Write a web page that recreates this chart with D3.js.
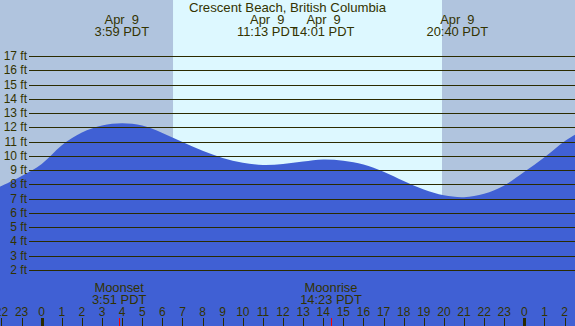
<!DOCTYPE html>
<html lang="en">
<head>
<meta charset="UTF-8">
<title>Crescent Beach, British Columbia</title>
<script src="https://d3js.org/d3.v7.min.js"></script>
<style>
  body { margin: 0; background: #fff; }
  text { font-family: "Liberation Sans", Arial, sans-serif; font-size: 12px; fill: #333300; white-space: pre; }
  text.big { font-size: 12.9px; }
</style>
</head>
<body>
<script>
    // tide heights, hours from 00:00 Apr 9
    var hours   = [-2.1, -2, -1, 0, 1, 2, 3, 4, 5, 6, 7, 8, 9, 10, 11, 12, 13, 14, 15, 16, 17, 18, 19, 20, 21, 22, 23, 24, 25, 26, 26.6];
    var heights = [7.82, 7.88, 8.58, 9.43, 10.74, 11.63, 12.12, 12.28, 12.12, 11.6, 10.97, 10.35, 9.85, 9.52, 9.36, 9.43, 9.61, 9.75, 9.66, 9.39, 8.88, 8.23, 7.64, 7.23, 7.1, 7.34, 7.93, 8.88, 9.9, 11.02, 11.55];

    var extremeHours  = [3.983, 11.217, 14.017, 20.667];
    var extremeLabels = ["3:59 PDT", "11:13 PDT", "14:01 PDT", "20:40 PDT"];

    var moonHours  = [3.85, 14.383];
    var moonNames  = ["Moonset", "Moonrise"];
    var moonLabels = ["3:51 PDT", "14:23 PDT"];

    var sunrise = 6.53, sunset = 19.905;
    var feetTicks = d3.range(2, 18);
    var hourTicks = d3.range(-2, 27);

    var width = 575, height = 326;
    var svg = d3.select("body").append("svg")
        .attr("width", width)
        .attr("height", height);

    var x = d3.scaleLinear().domain([-2.074, 26.518]).range([0, width]);
    var y = d3.scaleLinear().domain([0, 17]).range([298.5, 56]);

    // night / day background
    svg.append("rect").attr("width", width).attr("height", height).attr("fill", "#b0c4de");
    svg.append("rect")
        .attr("x", x(sunrise)).attr("y", 0)
        .attr("width", x(sunset) - x(sunrise)).attr("height", height)
        .attr("fill", "#ddf8ff");

    // tide
    var area = d3.area()
        .x(function(d, i) { return x(hours[i]); })
        .y0(height)
        .y1(function(d) { return y(d); })
        .curve(d3.curveCatmullRom);
    svg.append("path").datum(heights).attr("d", area).attr("fill", "#4060d4");

    // grid lines + feet labels
    svg.selectAll("line.grid").data(feetTicks).enter().append("line")
        .attr("x1", 29).attr("x2", width)
        .attr("y1", function(d) { return Math.round(y(d)) + 0.5; })
        .attr("y2", function(d) { return Math.round(y(d)) + 0.5; })
        .attr("stroke", "#2b2b00").attr("stroke-width", 1);
    svg.selectAll("text.ft").data(feetTicks).enter().append("text")
        .attr("x", 27).attr("y", function(d) { return y(d) + 4; })
        .attr("text-anchor", "end")
        .text(function(d) { return d + " ft"; });

    // title and high/low labels
    svg.append("text").attr("class", "big").attr("x", 287.5).attr("y", 11.5).attr("text-anchor", "middle")
        .style("font-size", "13.2px")
        .text("Crescent Beach, British Columbia");
    extremeHours.forEach(function(h, i) {
        svg.append("text").attr("class", "big").attr("x", x(h)).attr("y", 24).attr("text-anchor", "middle").text("Apr  9");
        svg.append("text").attr("class", "big").attr("x", x(h)).attr("y", 36).attr("text-anchor", "middle").text(extremeLabels[i]);
    });

    // moon events
    moonHours.forEach(function(h, i) {
        svg.append("text").attr("class", "big").attr("x", x(h)).attr("y", 291.5).attr("text-anchor", "middle").text(moonNames[i]);
        svg.append("text").attr("class", "big").attr("x", x(h)).attr("y", 304).attr("text-anchor", "middle").text(moonLabels[i]);
        svg.append("line")
            .attr("x1", Math.round(x(h)) + 0.5).attr("x2", Math.round(x(h)) + 0.5)
            .attr("y1", 318).attr("y2", height)
            .attr("stroke", "red");
    });

    // hour axis
    svg.selectAll("text.hr").data(hourTicks).enter().append("text")
        .attr("x", function(d) { return x(d); }).attr("y", 315.5)
        .attr("text-anchor", "middle")
        .text(function(d) { return (d + 24) % 24; });
    svg.selectAll("line.hr").data(hourTicks).enter().append("line")
        .attr("x1", function(d) { return Math.round(x(d)) + 0.5; })
        .attr("x2", function(d) { return Math.round(x(d)) + 0.5; })
        .attr("y1", 318).attr("y2", height)
        .attr("stroke", "#2b2b00")
        .attr("stroke-width", function(d) { return d % 24 === 0 ? 3 : 1; });
</script>
</body>
</html>
